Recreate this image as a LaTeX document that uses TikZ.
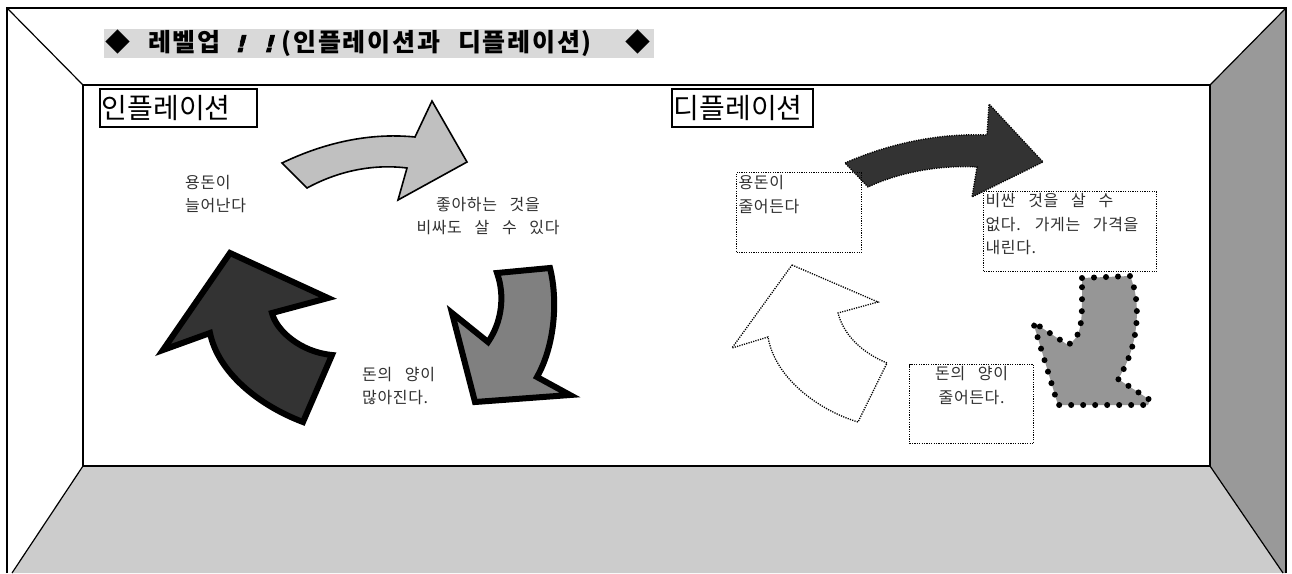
\documentclass[tikz,border=0pt]{standalone}
\usepackage{fontspec}
\setmainfont{Noto Sans CJK KR}
\newfontfamily\kr{Noto Sans CJK KR}
\newfontfamily\krtitle[LetterSpace=7]{Noto Sans CJK KR}
\newfontfamily\krbody[LetterSpace=4,WordSpace=3]{Noto Sans CJK KR}
\newfontfamily\exfont[FakeSlant=0.25,FakeBold=3]{DejaVu Sans Bold}
\definecolor{floorgray}{HTML}{CCCCCC}
\definecolor{wallgray}{HTML}{999999}
\definecolor{titlegray}{HTML}{D9D9D9}
\definecolor{arrowlight}{HTML}{C0C0C0}
\definecolor{arrowdark}{HTML}{333333}
\definecolor{arrowmid}{HTML}{808080}
\definecolor{arrowgray}{HTML}{969696}
\definecolor{bodycol}{HTML}{303030}
\tikzset{
  bodytxt/.style={align=left, inner sep=0pt, text=bodycol, font=\krbody\fontsize{16}{23.5}\selectfont},
  dotbox/.style={draw, line width=1.2pt, dash pattern=on 1.2pt off 1.2pt, inner sep=2pt, text=bodycol, font=\krbody\fontsize{16}{23.5}\selectfont},
  labelbox/.style={draw, line width=1.5pt, inner xsep=2pt, inner ysep=0pt, minimum height=38pt, align=left, font=\kr\fontsize{28}{28}\selectfont},
  thinedge/.style={line width=1.2pt},
  finedots/.style={line width=1.3pt, dash pattern=on 1.2pt off 1.2pt},
  bigdots/.style={line width=6pt, dash pattern=on 0pt off 12pt, line cap=round},
  thickedge/.style={draw=black, line width=6pt, line join=miter}
}
\begin{document}
\begin{tikzpicture}[x=1pt,y=-1pt]
\useasboundingbox (0,0) rectangle (1292,573);
\fill[white] (0,0) rectangle (1292,573);
% room
\fill[floorgray] (83,466) -- (1210,466) -- (1283,573) -- (12,573) -- cycle;
\fill[wallgray] (1210,85) -- (1286,8) -- (1286,573) -- (1283,573) -- (1210,466) -- cycle;
\draw[line width=1.5pt] (7,573) -- (7,8) -- (1286,8) -- (1286,573);
\draw[thinedge] (7,8) -- (83,85);
\draw[thinedge] (1286,8) -- (1210,85);
\draw[thinedge] (83,466) -- (12,573);
\draw[thinedge] (1210,466) -- (1283,573);
\draw[line width=2.8pt] (83,85) rectangle (1210,466);
% title
\node[fill=titlegray, anchor=north west, text width=548pt, align=left, minimum height=29pt,
      inner xsep=1pt, inner ysep=0pt,
      font=\krtitle\bfseries\fontsize{25}{25}\selectfont] (title) at (104,29)
  {◆\hspace{18pt}레벨업\hspace{14pt}{\exfont\fontsize{23}{23}\selectfont !}\hspace{18pt}{\exfont\fontsize{23}{23}\selectfont !}\hspace{8pt}(인플레이션과\hspace{18pt}디플레이션)\hspace{34pt}◆};
% labels
\node[labelbox, anchor=north west, text width=153pt] (infl) at (99,88) {인플레이션};
\node[labelbox, anchor=north west, text width=137pt] (defl) at (671,88) {디플레이션};
% left cycle arrows
\draw[fill=arrowlight, line width=1.6pt, line join=miter]
  (282,163) .. controls (330,140) and (375,133) .. (415,137) -- (432,101) -- (467,162)
  -- (398,200) -- (407,168) .. controls (375,164) and (340,170) .. (307,188) -- cycle;
\draw[fill=arrowdark, thickedge]
  (230,253) -- (328,298) -- (272,313) .. controls (276,330) and (300,352) .. (332,355)
  -- (303,422) .. controls (258,405) and (218,372) .. (210,333) -- (163,350) -- cycle;
\draw[fill=arrowmid, thickedge]
  (497,273) -- (550,268) .. controls (558,300) and (555,345) .. (537,377) -- (570,395)
  -- (475,402) -- (452,313) -- (488,342) .. controls (502,322) and (505,295) .. (497,273) -- cycle;
% left texts
\node[bodytxt, anchor=north west] (t1) at (185,175) {용돈이\\늘어난다};
\node[bodytxt, align=center, anchor=north] (t2) at (488,197) {좋아하는 것을\\비싸도 살 수 있다};
\node[bodytxt, anchor=north west] (t3) at (362,367) {돈의 양이\\많아진다.};
% right cycle arrows
\draw[fill=arrowdark, finedots]
  (845,163) .. controls (890,143) and (940,133) .. (987,135) -- (989,104) -- (1043,162)
  -- (972,197) -- (977,167) .. controls (940,165) and (900,172) .. (868,187) -- cycle;
\draw[finedots]
  (792,265) -- (878,302) -- (838,313) .. controls (843,333) and (860,352) .. (887,363)
  -- (858,422) .. controls (818,410) and (775,378) .. (768,337) -- (732,348) -- cycle;
\fill[arrowgray]
  (1082,278) -- (1130,276) .. controls (1141,300) and (1140,345) .. (1118,379) -- (1150,400)
  -- (1148,405) -- (1058,405) -- (1033,322) -- (1068,345) .. controls (1080,338) and (1082,325) .. (1082,300) -- cycle;
\draw[bigdots]
  (1082,278) -- (1130,276) .. controls (1141,300) and (1140,345) .. (1118,379) -- (1150,400)
  -- (1148,405) -- (1058,405) -- (1033,322) -- (1068,345) .. controls (1080,338) and (1082,325) .. (1082,300) -- cycle;
% right texts
\node[dotbox, anchor=north west] (r1) at (736,172) {\parbox[c][76pt][t]{121pt}{\raggedright\vspace*{1pt}용돈이\\줄어든다}};
\node[dotbox, anchor=north west] (r2) at (983,191) {\parbox[c][76pt][t]{169pt}{\raggedright 비싼 것을 살 수\\없다. 가게는 가격을\\내린다.}};
\node[dotbox, anchor=north west] (r3) at (909,364) {\parbox[c][75pt][t]{120pt}{\centering 돈의 양이\\줄어든다.}};
\end{tikzpicture}
\end{document}
